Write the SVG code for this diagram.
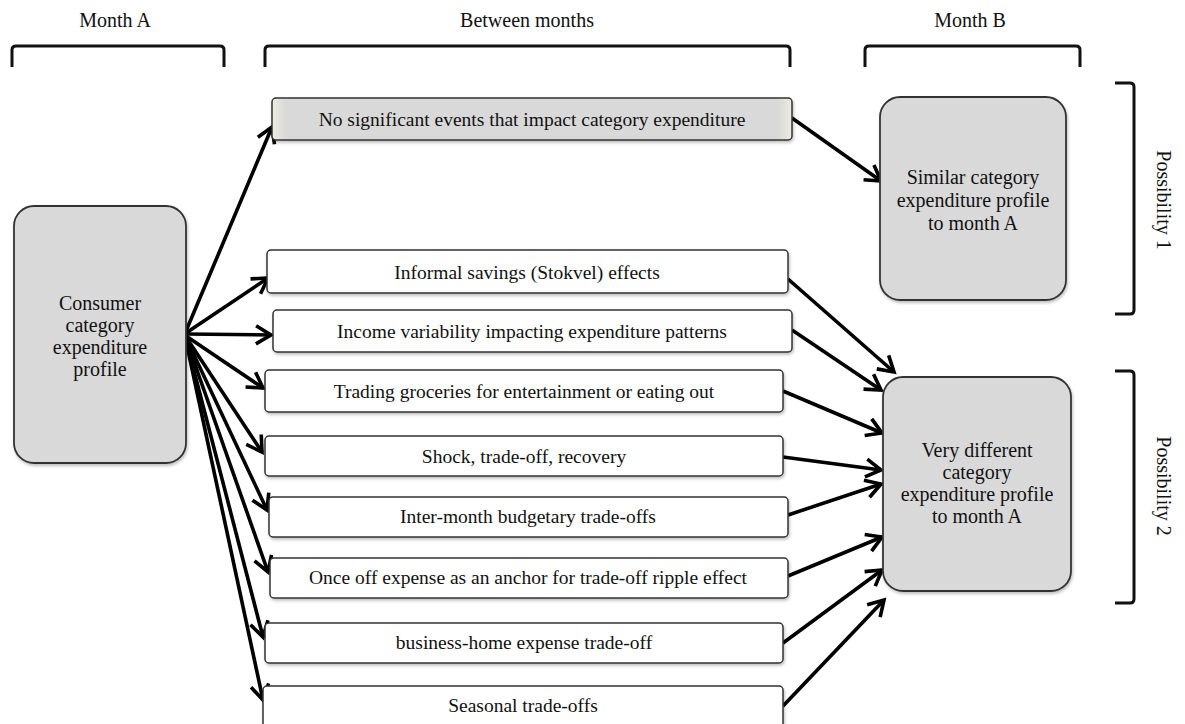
<svg xmlns="http://www.w3.org/2000/svg" width="1185" height="724" viewBox="0 0 1185 724">
<style>
text{font-family:"Liberation Serif","Times New Roman",serif;fill:#111;}
.hdr{font-size:20px;text-anchor:middle;}
.lbl{font-size:19.5px;text-anchor:middle;dominant-baseline:central;}
.big{font-size:20px;text-anchor:middle;}
.box{fill:#fff;stroke:#333;stroke-width:1.5;filter:url(#sh);}
.gbox{fill:#d9d9d9;stroke:#333;stroke-width:1.8;filter:url(#sh);}
.brk{fill:none;stroke:#111;stroke-width:3;stroke-linejoin:round;}
.con{fill:none;stroke:#000;stroke-width:3.6;marker-end:url(#ah);}
</style>
<defs>
<marker id="ah" markerUnits="userSpaceOnUse" markerWidth="26" markerHeight="26" viewBox="0 0 26 26" refX="19" refY="13" orient="auto">
<path d="M4,4 L19,13 L4,22" fill="none" stroke="#000" stroke-width="3.6" stroke-linejoin="miter"/>
</marker>
<linearGradient id="tg" x1="0" x2="1" y1="0" y2="0">
<stop offset="0" stop-color="#eeeedf"/>
<stop offset="0.025" stop-color="#d9d9d9"/>
<stop offset="0.975" stop-color="#d9d9d9"/>
<stop offset="1" stop-color="#eeeedf"/>
</linearGradient>
<filter id="sh" x="-5%" y="-10%" width="110%" height="130%">
<feDropShadow dx="1" dy="2" stdDeviation="1.5" flood-color="#000" flood-opacity="0.25"/>
</filter>
</defs>

<g id="headers">
<text class="hdr" x="115" y="27">Month A</text>
<text class="hdr" x="527" y="27">Between months</text>
<text class="hdr" x="970" y="27">Month B</text>
<path class="brk" d="M12,67 L12,50 Q12,46 16,46 L220,46 Q224,46 224,50 L224,67"/>
<path class="brk" d="M265,67 L265,50 Q265,46 269,46 L786,46 Q790,46 790,50 L790,67"/>
<path class="brk" d="M865,67 L865,50 Q865,46 869,46 L1076,46 Q1080,46 1080,50 L1080,67"/>
<path class="brk" d="M1115,83 L1130,83 Q1134,83 1134,87 L1134,310 Q1134,314 1130,314 L1115,314"/>
<path class="brk" d="M1115,371 L1130,371 Q1134,371 1134,375 L1134,599 Q1134,603 1130,603 L1115,603"/>
<text class="hdr" transform="translate(1157,200) rotate(90)">Possibility 1</text>
<text class="hdr" transform="translate(1157,486) rotate(90)">Possibility 2</text>
</g>

<g id="connectors">
<path class="con" d="M186,331 L272,127"/>
<path class="con" d="M186,333 L268,278"/>
<path class="con" d="M186,334 L271,335"/>
<path class="con" d="M186,336 L263,388"/>
<path class="con" d="M186,337 L262,452"/>
<path class="con" d="M186,338 L267,510"/>
<path class="con" d="M186,339 L268,572"/>
<path class="con" d="M186,340 L263,637"/>
<path class="con" d="M186,341 L263,700"/>
<path class="con" d="M792,118 L881,181"/>
<path class="con" d="M788,279 L894,372"/>
<path class="con" d="M792,330 L881,390"/>
<path class="con" d="M783,391 L882,433"/>
<path class="con" d="M783,457 L881,470"/>
<path class="con" d="M788,515 L881,484"/>
<path class="con" d="M788,576 L882,537"/>
<path class="con" d="M783,643 L882,570"/>
<path class="con" d="M783,706 L884,600"/>
</g>

<g id="consumer">
<rect class="gbox" x="14" y="206" width="172" height="257" rx="20"/>
<text class="big" x="100" y="310">Consumer</text>
<text class="big" x="100" y="332">category</text>
<text class="big" x="100" y="354">expenditure</text>
<text class="big" x="100" y="376">profile</text>
</g>

<g id="no-events">
<rect x="272" y="98" width="520" height="42" rx="4" fill="url(#tg)" stroke="#333" stroke-width="1.5" filter="url(#sh)"/>
<text class="lbl" x="532" y="119">No significant events that impact category expenditure</text>
</g>

<g id="informal">
<rect class="box" x="267" y="250" width="521" height="43" rx="4"/>
<text class="lbl" x="527" y="272">Informal savings (Stokvel) effects</text>
</g>
<g id="income">
<rect class="box" x="273" y="310" width="519" height="42" rx="4"/>
<text class="lbl" x="532" y="331">Income variability impacting expenditure patterns</text>
</g>
<g id="trading">
<rect class="box" x="265" y="370" width="518" height="42" rx="4"/>
<text class="lbl" x="524" y="391">Trading groceries for entertainment or eating out</text>
</g>
<g id="shock">
<rect class="box" x="265" y="436" width="518" height="40" rx="4"/>
<text class="lbl" x="524" y="456">Shock, trade-off, recovery</text>
</g>
<g id="inter-month">
<rect class="box" x="269" y="497" width="519" height="40" rx="4"/>
<text class="lbl" x="528" y="516">Inter-month budgetary trade-offs</text>
</g>
<g id="once-off">
<rect class="box" x="270" y="558" width="518" height="40" rx="4"/>
<text class="lbl" x="528" y="577">Once off expense as an anchor for trade-off ripple effect</text>
</g>
<g id="business-home">
<rect class="box" x="265" y="623" width="518" height="40" rx="4"/>
<text class="lbl" x="524" y="642">business-home expense trade-off</text>
</g>
<g id="seasonal">
<rect class="box" x="263" y="686" width="520" height="44" rx="4"/>
<text class="lbl" x="523" y="705">Seasonal trade-offs</text>
</g>

<g id="similar">
<rect class="gbox" x="880" y="97" width="186" height="203" rx="20"/>
<text class="big" x="973" y="184">Similar category</text>
<text class="big" x="973" y="207">expenditure profile</text>
<text class="big" x="973" y="230">to month A</text>
</g>

<g id="very-different">
<rect class="gbox" x="883" y="377" width="188" height="214" rx="20"/>
<text class="big" x="977" y="457">Very different</text>
<text class="big" x="977" y="479">category</text>
<text class="big" x="977" y="501">expenditure profile</text>
<text class="big" x="977" y="523">to month A</text>
</g>
</svg>
